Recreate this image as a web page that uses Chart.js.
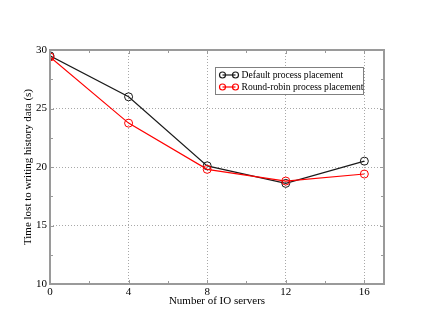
<!DOCTYPE html>
<html>
<head>
<meta charset="utf-8">
<script src="https://cdn.jsdelivr.net/npm/chart.js@4/dist/chart.umd.min.js"></script>
<style>
  html, body { margin: 0; padding: 0; background: #fff; }
  #wrap { width: 432px; height: 334px; }
</style>
</head>
<body>
<div id="wrap"><canvas id="ioChart" width="432" height="334"></canvas></div>
<script>
// IO server counts and time lost for each placement strategy
const ioServers = [0, 4, 8, 12, 16];
const defaultPlacement = [29.5, 26.0, 20.1, 18.6, 20.5];
const roundRobinPlacement = [29.4, 23.75, 19.8, 18.8, 19.4];
const xTickValues = [0, 4, 8, 12, 16];
const yTickValues = [10, 15, 20, 25, 30];
const xMinorTicks = [2, 6, 10, 14];
const yMinorTicks = [12.5, 17.5, 22.5, 27.5];

const serif = "'Liberation Serif', 'DejaVu Serif', serif";
const frameColor = '#9a9a9a';

// Frame, inside tick marks and the boxed legend
const framePlugin = {
  id: 'frame',
  afterDatasetsDraw(chart) {
    const { ctx, chartArea: a, scales: { x, y } } = chart;
    ctx.save();
    ctx.strokeStyle = frameColor;
    ctx.lineWidth = 1;
    const tick = (len, list, horiz) => {
      list.forEach(v => {
        ctx.beginPath();
        if (horiz) {
          const px = Math.round(x.getPixelForValue(v)) + 0.5;
          ctx.moveTo(px, a.bottom); ctx.lineTo(px, a.bottom - len);
          ctx.moveTo(px, a.top); ctx.lineTo(px, a.top + len);
        } else {
          const py = Math.round(y.getPixelForValue(v)) + 0.5;
          ctx.moveTo(a.left, py); ctx.lineTo(a.left + len, py);
          ctx.moveTo(a.right, py); ctx.lineTo(a.right - len, py);
        }
        ctx.stroke();
      });
    };
    tick(4, xTickValues, true);
    tick(3, xMinorTicks, true);
    tick(4, yTickValues, false);
    tick(3, yMinorTicks, false);

    ctx.lineWidth = 2;
    ctx.strokeRect(a.left, a.top, a.right - a.left, a.bottom - a.top);

    // legend
    const lx = 215.5, ly = 67.5, lw = 148, lh = 27;
    ctx.fillStyle = '#fff';
    ctx.fillRect(lx, ly, lw, lh);
    ctx.lineWidth = 1;
    ctx.strokeStyle = '#808080';
    ctx.strokeRect(lx, ly, lw, lh);
    ctx.font = '9.6px ' + serif;
    ctx.textBaseline = 'middle';
    chart.data.datasets.forEach((ds, i) => {
      const cy = ly + 7.5 + i * 12;
      ctx.strokeStyle = ds.borderColor;
      ctx.lineWidth = 1.2;
      ctx.beginPath();
      ctx.moveTo(lx + 7, cy); ctx.lineTo(lx + 20, cy);
      ctx.stroke();
      [lx + 7, lx + 20].forEach(cx => {
        ctx.beginPath();
        ctx.arc(cx, cy, 3, 0, Math.PI * 2);
        ctx.stroke();
      });
      ctx.fillStyle = '#000';
      ctx.fillText(ds.label, lx + 26, cy);
    });
    ctx.restore();
  }
};

const ctx = document.getElementById('ioChart').getContext('2d');
new Chart(ctx, {
  type: 'line',
  data: {
    labels: ioServers,
    datasets: [
      {
        label: 'Default process placement',
        data: ioServers.map((s, i) => ({ x: s, y: defaultPlacement[i] })),
        borderColor: '#1a1a1a',
        borderWidth: 1.2,
        pointRadius: 4,
        pointBorderWidth: 1,
        pointBackgroundColor: 'rgba(0,0,0,0)',
        pointBorderColor: '#1a1a1a',
        order: 1
      },
      {
        label: 'Round-robin process placement',
        data: ioServers.map((s, i) => ({ x: s, y: roundRobinPlacement[i] })),
        borderColor: '#ff0000',
        borderWidth: 1.2,
        pointRadius: 4,
        pointBorderWidth: 1,
        pointBackgroundColor: 'rgba(0,0,0,0)',
        pointBorderColor: '#ff0000',
        order: 0
      }
    ]
  },
  options: {
    responsive: false,
    animation: false,
    layout: { padding: { left: 22, right: 48, top: 50, bottom: 26 } },
    plugins: { legend: { display: false }, tooltip: { enabled: false } },
    scales: {
      x: {
        type: 'linear',
        min: 0,
        max: 17,
        afterFit: s => { s.height = 24; },
        afterBuildTicks: s => { s.ticks = xTickValues.map(v => ({ value: v })); },
        border: { display: false, dash: [1, 2] },
        grid: { color: '#a8a8a8', lineWidth: 1, drawTicks: false },
        ticks: { color: '#000', padding: 2, font: { family: serif, size: 11 }, maxRotation: 0 },
        title: { display: true, text: 'Number of IO servers', color: '#000', padding: { top: 0, bottom: 0 }, font: { family: serif, size: 11 } }
      },
      y: {
        min: 10,
        max: 30,
        afterFit: s => { s.width = 28; },
        afterBuildTicks: s => { s.ticks = yTickValues.map(v => ({ value: v })); },
        border: { display: false, dash: [1, 2] },
        grid: { color: '#a8a8a8', lineWidth: 1, drawTicks: false },
        ticks: { color: '#000', padding: 3, font: { family: serif, size: 11 } },
        title: { display: true, text: 'Time lost to writing history data (s)', color: '#000', padding: { top: 0, bottom: 0 }, font: { family: serif, size: 11 } }
      }
    }
  },
  plugins: [framePlugin]
});
</script>
</body>
</html>
